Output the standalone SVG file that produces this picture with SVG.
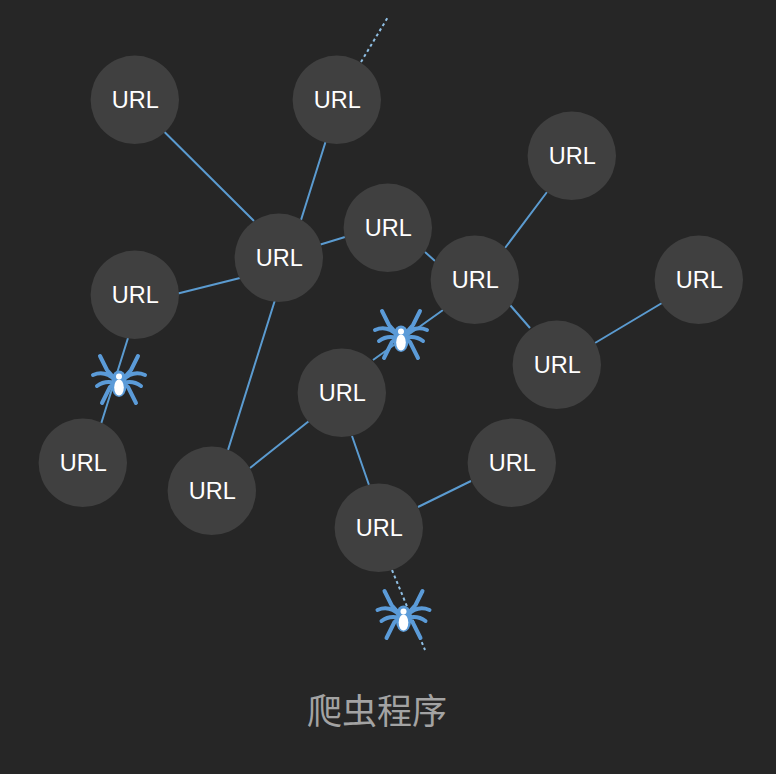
<svg xmlns="http://www.w3.org/2000/svg" width="776" height="774" viewBox="0 0 776 774">
<style>
.n{fill:#404040}
.t{fill:#fff;font:23.5px "Liberation Sans",Arial,sans-serif;text-anchor:middle}
.e{stroke:#5b9bd0;stroke-width:2;fill:none}
.d{stroke:#8fbfe4;stroke-width:2;stroke-dasharray:3 3;fill:none}
.l{stroke:#5b9bd8;stroke-width:4;fill:none;stroke-linecap:round;stroke-linejoin:round}
.title{fill:#a3a3a3;font:35px "Noto Sans CJK SC",sans-serif;text-anchor:middle}
</style>
<defs>
<g id="spider">
<path class="l" d="M-19-31L-12-17L-4-8M-26-12Q-14-17-4-7M-22-1Q-14-7-4-4M-17 16L-9 0L-3-5M19-31L12-17L4-8M26-12Q14-17 4-7M22-1Q14-7 4-4M17 16L9 0L3-5"/>
<ellipse cx="0" cy="-1" rx="7.500" ry="11" fill="#5b9bd8"/>
<circle cx="0" cy="-10" r="6.500" fill="#5b9bd8"/>
<ellipse cx="0" cy="0.500" rx="4.800" ry="8" fill="#fff"/>
<circle cx="0" cy="-10.500" r="3" fill="#fff"/>
</g>
</defs>
<rect width="776" height="774" fill="#262626"/>
<g id="connectors">
<path class="e" d="M164.500 132L254 221M325.500 142L301 220M320.500 244.500L345 237M425 252L435 261M505 248L547 192M510 305L530 328M595 343L662 303M178 293.500L240 278M128 338L101 424M275 300L228 450M250 468L309 421M373 360L443 310M352 436L369 485M418 507L471 481"/>
<path class="d" d="M361 62L388 17M392 570L425 650"/>
</g>
<g id="n1"><circle class="n" cx="134.800" cy="99.800" r="44.200"/><text class="t" x="135.300" y="108">URL</text></g>
<g id="n2"><circle class="n" cx="336.800" cy="99.800" r="44.200"/><text class="t" x="337.300" y="108">URL</text></g>
<g id="n3"><circle class="n" cx="571.800" cy="155.800" r="44.200"/><text class="t" x="572.300" y="164">URL</text></g>
<g id="n4"><circle class="n" cx="278.800" cy="257.800" r="44.200"/><text class="t" x="279.300" y="266">URL</text></g>
<g id="n5"><circle class="n" cx="387.800" cy="227.800" r="44.200"/><text class="t" x="388.300" y="236">URL</text></g>
<g id="n6"><circle class="n" cx="474.800" cy="279.800" r="44.200"/><text class="t" x="475.300" y="288">URL</text></g>
<g id="n7"><circle class="n" cx="698.800" cy="279.800" r="44.200"/><text class="t" x="699.300" y="288">URL</text></g>
<g id="n8"><circle class="n" cx="134.800" cy="294.800" r="44.200"/><text class="t" x="135.300" y="303">URL</text></g>
<g id="n9"><circle class="n" cx="556.800" cy="364.800" r="44.200"/><text class="t" x="557.300" y="373">URL</text></g>
<g id="n10"><circle class="n" cx="341.800" cy="392.800" r="44.200"/><text class="t" x="342.300" y="401">URL</text></g>
<g id="n11"><circle class="n" cx="82.800" cy="462.800" r="44.200"/><text class="t" x="83.300" y="471">URL</text></g>
<g id="n12"><circle class="n" cx="211.800" cy="490.800" r="44.200"/><text class="t" x="212.300" y="499">URL</text></g>
<g id="n13"><circle class="n" cx="511.800" cy="462.800" r="44.200"/><text class="t" x="512.300" y="471">URL</text></g>
<g id="n14"><circle class="n" cx="378.800" cy="527.800" r="44.200"/><text class="t" x="379.300" y="536">URL</text></g>
<g id="spider1"><use href="#spider" x="401" y="342"/></g>
<g id="spider2"><use href="#spider" x="119" y="387"/></g>
<g id="spider3"><use href="#spider" x="403.500" y="622"/></g>
<text class="title" x="377" y="724">爬虫程序</text>
</svg>
